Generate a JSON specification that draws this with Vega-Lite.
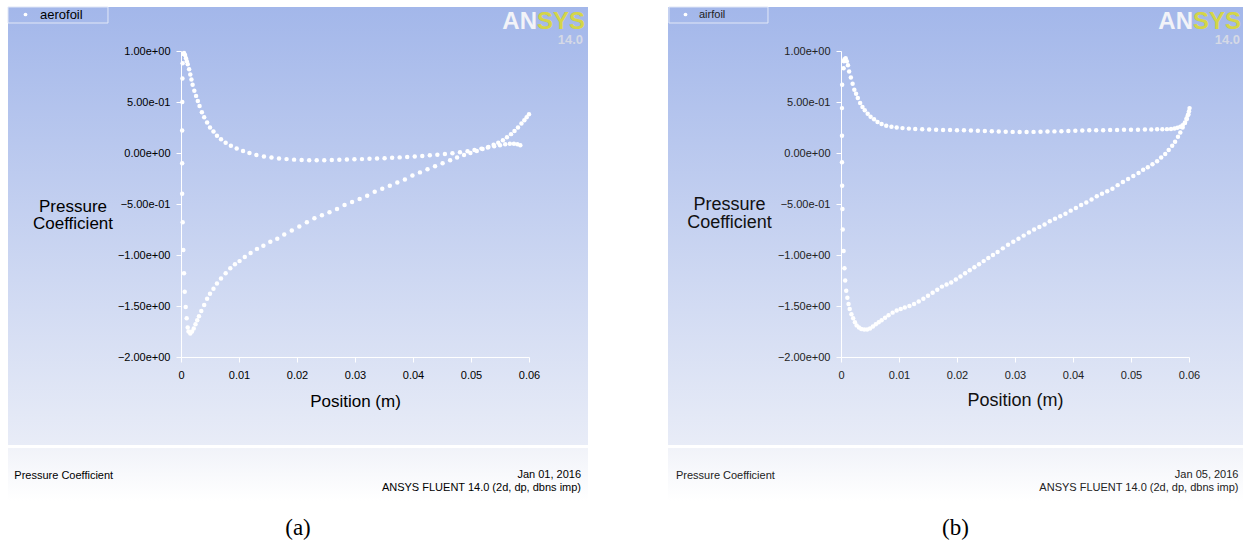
{
"$schema":"https://vega.github.io/schema/vega-lite/v6.json",
"padding":{"left":7,"top":6,"right":0,"bottom":0},
"spacing":80,
"resolve":{"scale":{"color":"independent"},"legend":{"color":"independent"}},
"config":{
"view":{"stroke":null,"fill":{"gradient":"linear","x1":0,"y1":0,"x2":0,"y2":1,"stops":[{"offset":0,"color":"#a3b7ea"},{"offset":0.886,"color":"#e8ecf7"},{"offset":0.887,"color":"#ffffff"},{"offset":0.892,"color":"#ffffff"},{"offset":0.893,"color":"#f1f3f9"},{"offset":1,"color":"#ffffff"}]}},
"font":"Liberation Sans",
"axis":{"grid":false,"domainColor":"#ffffff","domainWidth":1,"tickColor":"#ffffff","tickSize":5,"tickWidth":1,"labelFont":"Liberation Sans","labelFontSize":11,"labelColor":"#111111","titleFont":"Liberation Sans","titleFontWeight":"normal","titleColor":"#111111"}
},
"datasets":{
"a":[
{"zone":"aerofoil","side":"pressure","x":0.00052,"cp":0.98},{"zone":"aerofoil","side":"pressure","x":0.0007,"cp":0.96},{"zone":"aerofoil","side":"pressure","x":0.00086,"cp":0.93},{"zone":"aerofoil","side":"pressure","x":0.001,"cp":0.9},{"zone":"aerofoil","side":"pressure","x":0.00116,"cp":0.87},{"zone":"aerofoil","side":"pressure","x":0.0014,"cp":0.82},{"zone":"aerofoil","side":"pressure","x":0.0016,"cp":0.77},{"zone":"aerofoil","side":"pressure","x":0.0018,"cp":0.72},{"zone":"aerofoil","side":"pressure","x":0.002,"cp":0.67},{"zone":"aerofoil","side":"pressure","x":0.0023,"cp":0.61},{"zone":"aerofoil","side":"pressure","x":0.0026,"cp":0.56},{"zone":"aerofoil","side":"pressure","x":0.0029,"cp":0.51},{"zone":"aerofoil","side":"pressure","x":0.0032,"cp":0.46},{"zone":"aerofoil","side":"pressure","x":0.0036,"cp":0.4},{"zone":"aerofoil","side":"pressure","x":0.004,"cp":0.35},{"zone":"aerofoil","side":"pressure","x":0.0045,"cp":0.3},{"zone":"aerofoil","side":"pressure","x":0.005,"cp":0.25},{"zone":"aerofoil","side":"pressure","x":0.0056,"cp":0.21},{"zone":"aerofoil","side":"pressure","x":0.0062,"cp":0.17},{"zone":"aerofoil","side":"pressure","x":0.0069,"cp":0.135},{"zone":"aerofoil","side":"pressure","x":0.0077,"cp":0.1},{"zone":"aerofoil","side":"pressure","x":0.0086,"cp":0.07},{"zone":"aerofoil","side":"pressure","x":0.0096,"cp":0.045},{"zone":"aerofoil","side":"pressure","x":0.0107,"cp":0.02},{"zone":"aerofoil","side":"pressure","x":0.0118,"cp":0.0},{"zone":"aerofoil","side":"pressure","x":0.013,"cp":-0.02},{"zone":"aerofoil","side":"pressure","x":0.0143,"cp":-0.035},{"zone":"aerofoil","side":"pressure","x":0.0156,"cp":-0.045},{"zone":"aerofoil","side":"pressure","x":0.0169,"cp":-0.055},{"zone":"aerofoil","side":"pressure","x":0.0182,"cp":-0.06},{"zone":"aerofoil","side":"pressure","x":0.0195,"cp":-0.065},{"zone":"aerofoil","side":"pressure","x":0.0208,"cp":-0.068},{"zone":"aerofoil","side":"pressure","x":0.0221,"cp":-0.07},{"zone":"aerofoil","side":"pressure","x":0.0234,"cp":-0.07},{"zone":"aerofoil","side":"pressure","x":0.0247,"cp":-0.07},{"zone":"aerofoil","side":"pressure","x":0.026,"cp":-0.068},{"zone":"aerofoil","side":"pressure","x":0.0273,"cp":-0.066},{"zone":"aerofoil","side":"pressure","x":0.0286,"cp":-0.064},{"zone":"aerofoil","side":"pressure","x":0.0299,"cp":-0.062},{"zone":"aerofoil","side":"pressure","x":0.0312,"cp":-0.06},{"zone":"aerofoil","side":"pressure","x":0.0325,"cp":-0.057},{"zone":"aerofoil","side":"pressure","x":0.0338,"cp":-0.054},{"zone":"aerofoil","side":"pressure","x":0.0351,"cp":-0.051},{"zone":"aerofoil","side":"pressure","x":0.0364,"cp":-0.047},{"zone":"aerofoil","side":"pressure","x":0.0377,"cp":-0.043},{"zone":"aerofoil","side":"pressure","x":0.039,"cp":-0.039},{"zone":"aerofoil","side":"pressure","x":0.0403,"cp":-0.034},{"zone":"aerofoil","side":"pressure","x":0.0416,"cp":-0.029},{"zone":"aerofoil","side":"pressure","x":0.0429,"cp":-0.023},{"zone":"aerofoil","side":"pressure","x":0.0442,"cp":-0.017},{"zone":"aerofoil","side":"pressure","x":0.0455,"cp":-0.01},{"zone":"aerofoil","side":"pressure","x":0.0468,"cp":-0.002},{"zone":"aerofoil","side":"pressure","x":0.0481,"cp":0.008},{"zone":"aerofoil","side":"pressure","x":0.0494,"cp":0.018},{"zone":"aerofoil","side":"pressure","x":0.0506,"cp":0.03},{"zone":"aerofoil","side":"pressure","x":0.0518,"cp":0.043},{"zone":"aerofoil","side":"pressure","x":0.0529,"cp":0.055},{"zone":"aerofoil","side":"pressure","x":0.054,"cp":0.067},{"zone":"aerofoil","side":"pressure","x":0.055,"cp":0.077},{"zone":"aerofoil","side":"pressure","x":0.0559,"cp":0.085},{"zone":"aerofoil","side":"pressure","x":0.0567,"cp":0.09},{"zone":"aerofoil","side":"pressure","x":0.0574,"cp":0.09},{"zone":"aerofoil","side":"pressure","x":0.058,"cp":0.085},{"zone":"aerofoil","side":"pressure","x":0.0585,"cp":0.075},
{"zone":"aerofoil","side":"suction","x":0.0004,"cp":0.97},{"zone":"aerofoil","side":"suction","x":0.00028,"cp":0.88},{"zone":"aerofoil","side":"suction","x":0.00025,"cp":0.73},{"zone":"aerofoil","side":"suction","x":0.00022,"cp":0.5},{"zone":"aerofoil","side":"suction","x":0.0002,"cp":0.22},{"zone":"aerofoil","side":"suction","x":0.0002,"cp":-0.1},{"zone":"aerofoil","side":"suction","x":0.0002,"cp":-0.4},{"zone":"aerofoil","side":"suction","x":0.00029,"cp":-0.68},{"zone":"aerofoil","side":"suction","x":0.0004,"cp":-0.95},{"zone":"aerofoil","side":"suction","x":0.00052,"cp":-1.18},{"zone":"aerofoil","side":"suction","x":0.00064,"cp":-1.36},{"zone":"aerofoil","side":"suction","x":0.00081,"cp":-1.51},{"zone":"aerofoil","side":"suction","x":0.00098,"cp":-1.62},{"zone":"aerofoil","side":"suction","x":0.00116,"cp":-1.71},{"zone":"aerofoil","side":"suction","x":0.0013,"cp":-1.75},{"zone":"aerofoil","side":"suction","x":0.0016,"cp":-1.77},{"zone":"aerofoil","side":"suction","x":0.0019,"cp":-1.75},{"zone":"aerofoil","side":"suction","x":0.0022,"cp":-1.72},{"zone":"aerofoil","side":"suction","x":0.0025,"cp":-1.68},{"zone":"aerofoil","side":"suction","x":0.0028,"cp":-1.64},{"zone":"aerofoil","side":"suction","x":0.0031,"cp":-1.6},{"zone":"aerofoil","side":"suction","x":0.0035,"cp":-1.55},{"zone":"aerofoil","side":"suction","x":0.004,"cp":-1.49},{"zone":"aerofoil","side":"suction","x":0.0045,"cp":-1.43},{"zone":"aerofoil","side":"suction","x":0.005,"cp":-1.38},{"zone":"aerofoil","side":"suction","x":0.0056,"cp":-1.33},{"zone":"aerofoil","side":"suction","x":0.0062,"cp":-1.28},{"zone":"aerofoil","side":"suction","x":0.0069,"cp":-1.23},{"zone":"aerofoil","side":"suction","x":0.0077,"cp":-1.18},{"zone":"aerofoil","side":"suction","x":0.0085,"cp":-1.13},{"zone":"aerofoil","side":"suction","x":0.0093,"cp":-1.09},{"zone":"aerofoil","side":"suction","x":0.0101,"cp":-1.06},{"zone":"aerofoil","side":"suction","x":0.011,"cp":-1.02},{"zone":"aerofoil","side":"suction","x":0.012,"cp":-0.98},{"zone":"aerofoil","side":"suction","x":0.0131,"cp":-0.94},{"zone":"aerofoil","side":"suction","x":0.0142,"cp":-0.91},{"zone":"aerofoil","side":"suction","x":0.0154,"cp":-0.87},{"zone":"aerofoil","side":"suction","x":0.0166,"cp":-0.84},{"zone":"aerofoil","side":"suction","x":0.0178,"cp":-0.8},{"zone":"aerofoil","side":"suction","x":0.0191,"cp":-0.76},{"zone":"aerofoil","side":"suction","x":0.0204,"cp":-0.72},{"zone":"aerofoil","side":"suction","x":0.0217,"cp":-0.68},{"zone":"aerofoil","side":"suction","x":0.023,"cp":-0.64},{"zone":"aerofoil","side":"suction","x":0.0243,"cp":-0.61},{"zone":"aerofoil","side":"suction","x":0.0256,"cp":-0.58},{"zone":"aerofoil","side":"suction","x":0.0269,"cp":-0.55},{"zone":"aerofoil","side":"suction","x":0.0282,"cp":-0.51},{"zone":"aerofoil","side":"suction","x":0.0295,"cp":-0.48},{"zone":"aerofoil","side":"suction","x":0.0308,"cp":-0.45},{"zone":"aerofoil","side":"suction","x":0.0321,"cp":-0.42},{"zone":"aerofoil","side":"suction","x":0.0334,"cp":-0.38},{"zone":"aerofoil","side":"suction","x":0.0347,"cp":-0.35},{"zone":"aerofoil","side":"suction","x":0.036,"cp":-0.32},{"zone":"aerofoil","side":"suction","x":0.0373,"cp":-0.29},{"zone":"aerofoil","side":"suction","x":0.0386,"cp":-0.26},{"zone":"aerofoil","side":"suction","x":0.0399,"cp":-0.22},{"zone":"aerofoil","side":"suction","x":0.0412,"cp":-0.19},{"zone":"aerofoil","side":"suction","x":0.0425,"cp":-0.16},{"zone":"aerofoil","side":"suction","x":0.0438,"cp":-0.13},{"zone":"aerofoil","side":"suction","x":0.0451,"cp":-0.1},{"zone":"aerofoil","side":"suction","x":0.0464,"cp":-0.07},{"zone":"aerofoil","side":"suction","x":0.0476,"cp":-0.045},{"zone":"aerofoil","side":"suction","x":0.0488,"cp":-0.02},{"zone":"aerofoil","side":"suction","x":0.0499,"cp":0.0},{"zone":"aerofoil","side":"suction","x":0.051,"cp":0.02},{"zone":"aerofoil","side":"suction","x":0.052,"cp":0.04},{"zone":"aerofoil","side":"suction","x":0.053,"cp":0.06},{"zone":"aerofoil","side":"suction","x":0.0539,"cp":0.08},{"zone":"aerofoil","side":"suction","x":0.0547,"cp":0.1},{"zone":"aerofoil","side":"suction","x":0.0555,"cp":0.125},{"zone":"aerofoil","side":"suction","x":0.0562,"cp":0.155},{"zone":"aerofoil","side":"suction","x":0.0569,"cp":0.185},{"zone":"aerofoil","side":"suction","x":0.0575,"cp":0.215},{"zone":"aerofoil","side":"suction","x":0.0581,"cp":0.25},{"zone":"aerofoil","side":"suction","x":0.0587,"cp":0.29},{"zone":"aerofoil","side":"suction","x":0.0592,"cp":0.32},{"zone":"aerofoil","side":"suction","x":0.0596,"cp":0.35},{"zone":"aerofoil","side":"suction","x":0.06,"cp":0.38}
],
"b":[
{"zone":"airfoil","side":"pressure","x":0.0006,"cp":0.92},{"zone":"airfoil","side":"pressure","x":0.0008,"cp":0.93},{"zone":"airfoil","side":"pressure","x":0.001,"cp":0.9},{"zone":"airfoil","side":"pressure","x":0.0012,"cp":0.86},{"zone":"airfoil","side":"pressure","x":0.0014,"cp":0.8},{"zone":"airfoil","side":"pressure","x":0.0017,"cp":0.74},{"zone":"airfoil","side":"pressure","x":0.002,"cp":0.68},{"zone":"airfoil","side":"pressure","x":0.0023,"cp":0.62},{"zone":"airfoil","side":"pressure","x":0.0026,"cp":0.58},{"zone":"airfoil","side":"pressure","x":0.0029,"cp":0.54},{"zone":"airfoil","side":"pressure","x":0.0033,"cp":0.49},{"zone":"airfoil","side":"pressure","x":0.0037,"cp":0.45},{"zone":"airfoil","side":"pressure","x":0.0041,"cp":0.42},{"zone":"airfoil","side":"pressure","x":0.0046,"cp":0.385},{"zone":"airfoil","side":"pressure","x":0.0051,"cp":0.355},{"zone":"airfoil","side":"pressure","x":0.0057,"cp":0.33},{"zone":"airfoil","side":"pressure","x":0.0063,"cp":0.305},{"zone":"airfoil","side":"pressure","x":0.007,"cp":0.285},{"zone":"airfoil","side":"pressure","x":0.0078,"cp":0.268},{"zone":"airfoil","side":"pressure","x":0.0087,"cp":0.257},{"zone":"airfoil","side":"pressure","x":0.0096,"cp":0.25},{"zone":"airfoil","side":"pressure","x":0.0106,"cp":0.244},{"zone":"airfoil","side":"pressure","x":0.0117,"cp":0.239},{"zone":"airfoil","side":"pressure","x":0.0128,"cp":0.235},{"zone":"airfoil","side":"pressure","x":0.014,"cp":0.232},{"zone":"airfoil","side":"pressure","x":0.0152,"cp":0.23},{"zone":"airfoil","side":"pressure","x":0.0164,"cp":0.228},{"zone":"airfoil","side":"pressure","x":0.0176,"cp":0.226},{"zone":"airfoil","side":"pressure","x":0.0188,"cp":0.225},{"zone":"airfoil","side":"pressure","x":0.02,"cp":0.224},{"zone":"airfoil","side":"pressure","x":0.0212,"cp":0.222},{"zone":"airfoil","side":"pressure","x":0.0224,"cp":0.22},{"zone":"airfoil","side":"pressure","x":0.0236,"cp":0.218},{"zone":"airfoil","side":"pressure","x":0.0248,"cp":0.215},{"zone":"airfoil","side":"pressure","x":0.026,"cp":0.213},{"zone":"airfoil","side":"pressure","x":0.0272,"cp":0.21},{"zone":"airfoil","side":"pressure","x":0.0284,"cp":0.208},{"zone":"airfoil","side":"pressure","x":0.0296,"cp":0.207},{"zone":"airfoil","side":"pressure","x":0.0308,"cp":0.206},{"zone":"airfoil","side":"pressure","x":0.032,"cp":0.206},{"zone":"airfoil","side":"pressure","x":0.0332,"cp":0.207},{"zone":"airfoil","side":"pressure","x":0.0344,"cp":0.208},{"zone":"airfoil","side":"pressure","x":0.0356,"cp":0.21},{"zone":"airfoil","side":"pressure","x":0.0368,"cp":0.212},{"zone":"airfoil","side":"pressure","x":0.038,"cp":0.214},{"zone":"airfoil","side":"pressure","x":0.0392,"cp":0.216},{"zone":"airfoil","side":"pressure","x":0.0404,"cp":0.218},{"zone":"airfoil","side":"pressure","x":0.0416,"cp":0.22},{"zone":"airfoil","side":"pressure","x":0.0428,"cp":0.222},{"zone":"airfoil","side":"pressure","x":0.044,"cp":0.223},{"zone":"airfoil","side":"pressure","x":0.0452,"cp":0.224},{"zone":"airfoil","side":"pressure","x":0.0464,"cp":0.225},{"zone":"airfoil","side":"pressure","x":0.0476,"cp":0.226},{"zone":"airfoil","side":"pressure","x":0.0488,"cp":0.227},{"zone":"airfoil","side":"pressure","x":0.05,"cp":0.228},{"zone":"airfoil","side":"pressure","x":0.0512,"cp":0.229},{"zone":"airfoil","side":"pressure","x":0.0524,"cp":0.23},{"zone":"airfoil","side":"pressure","x":0.0535,"cp":0.231},{"zone":"airfoil","side":"pressure","x":0.0545,"cp":0.232},{"zone":"airfoil","side":"pressure","x":0.0554,"cp":0.233},{"zone":"airfoil","side":"pressure","x":0.0562,"cp":0.234},{"zone":"airfoil","side":"pressure","x":0.0569,"cp":0.236},{"zone":"airfoil","side":"pressure","x":0.0575,"cp":0.24},{"zone":"airfoil","side":"pressure","x":0.058,"cp":0.247},{"zone":"airfoil","side":"pressure","x":0.0585,"cp":0.257},{"zone":"airfoil","side":"pressure","x":0.0589,"cp":0.272},{"zone":"airfoil","side":"pressure","x":0.0593,"cp":0.295},{"zone":"airfoil","side":"pressure","x":0.0596,"cp":0.33},{"zone":"airfoil","side":"pressure","x":0.0598,"cp":0.37},{"zone":"airfoil","side":"pressure","x":0.06,"cp":0.41},{"zone":"airfoil","side":"pressure","x":0.0601,"cp":0.44},
{"zone":"airfoil","side":"suction","x":0.0005,"cp":0.9},{"zone":"airfoil","side":"suction","x":0.00045,"cp":0.83},{"zone":"airfoil","side":"suction","x":0.0002,"cp":0.67},{"zone":"airfoil","side":"suction","x":0.00017,"cp":0.44},{"zone":"airfoil","side":"suction","x":0.00017,"cp":0.17},{"zone":"airfoil","side":"suction","x":0.00017,"cp":-0.09},{"zone":"airfoil","side":"suction","x":0.0002,"cp":-0.32},{"zone":"airfoil","side":"suction","x":0.00025,"cp":-0.55},{"zone":"airfoil","side":"suction","x":0.0003,"cp":-0.75},{"zone":"airfoil","side":"suction","x":0.00045,"cp":-0.96},{"zone":"airfoil","side":"suction","x":0.0006,"cp":-1.13},{"zone":"airfoil","side":"suction","x":0.00072,"cp":-1.25},{"zone":"airfoil","side":"suction","x":0.0009,"cp":-1.35},{"zone":"airfoil","side":"suction","x":0.0011,"cp":-1.42},{"zone":"airfoil","side":"suction","x":0.0013,"cp":-1.48},{"zone":"airfoil","side":"suction","x":0.0015,"cp":-1.53},{"zone":"airfoil","side":"suction","x":0.0018,"cp":-1.58},{"zone":"airfoil","side":"suction","x":0.0021,"cp":-1.62},{"zone":"airfoil","side":"suction","x":0.0024,"cp":-1.66},{"zone":"airfoil","side":"suction","x":0.0027,"cp":-1.69},{"zone":"airfoil","side":"suction","x":0.0031,"cp":-1.71},{"zone":"airfoil","side":"suction","x":0.0035,"cp":-1.725},{"zone":"airfoil","side":"suction","x":0.004,"cp":-1.73},{"zone":"airfoil","side":"suction","x":0.0045,"cp":-1.73},{"zone":"airfoil","side":"suction","x":0.005,"cp":-1.72},{"zone":"airfoil","side":"suction","x":0.0055,"cp":-1.7},{"zone":"airfoil","side":"suction","x":0.006,"cp":-1.68},{"zone":"airfoil","side":"suction","x":0.0065,"cp":-1.66},{"zone":"airfoil","side":"suction","x":0.007,"cp":-1.64},{"zone":"airfoil","side":"suction","x":0.0076,"cp":-1.615},{"zone":"airfoil","side":"suction","x":0.0082,"cp":-1.59},{"zone":"airfoil","side":"suction","x":0.0089,"cp":-1.565},{"zone":"airfoil","side":"suction","x":0.0096,"cp":-1.545},{"zone":"airfoil","side":"suction","x":0.0103,"cp":-1.53},{"zone":"airfoil","side":"suction","x":0.011,"cp":-1.515},{"zone":"airfoil","side":"suction","x":0.0118,"cp":-1.5},{"zone":"airfoil","side":"suction","x":0.0126,"cp":-1.48},{"zone":"airfoil","side":"suction","x":0.0134,"cp":-1.455},{"zone":"airfoil","side":"suction","x":0.0142,"cp":-1.43},{"zone":"airfoil","side":"suction","x":0.015,"cp":-1.4},{"zone":"airfoil","side":"suction","x":0.0158,"cp":-1.37},{"zone":"airfoil","side":"suction","x":0.0166,"cp":-1.34},{"zone":"airfoil","side":"suction","x":0.0174,"cp":-1.31},{"zone":"airfoil","side":"suction","x":0.0182,"cp":-1.29},{"zone":"airfoil","side":"suction","x":0.019,"cp":-1.27},{"zone":"airfoil","side":"suction","x":0.0198,"cp":-1.24},{"zone":"airfoil","side":"suction","x":0.0206,"cp":-1.21},{"zone":"airfoil","side":"suction","x":0.0214,"cp":-1.18},{"zone":"airfoil","side":"suction","x":0.0222,"cp":-1.15},{"zone":"airfoil","side":"suction","x":0.023,"cp":-1.12},{"zone":"airfoil","side":"suction","x":0.0238,"cp":-1.09},{"zone":"airfoil","side":"suction","x":0.0246,"cp":-1.06},{"zone":"airfoil","side":"suction","x":0.0254,"cp":-1.03},{"zone":"airfoil","side":"suction","x":0.0262,"cp":-1.0},{"zone":"airfoil","side":"suction","x":0.027,"cp":-0.97},{"zone":"airfoil","side":"suction","x":0.0279,"cp":-0.935},{"zone":"airfoil","side":"suction","x":0.0288,"cp":-0.9},{"zone":"airfoil","side":"suction","x":0.0297,"cp":-0.87},{"zone":"airfoil","side":"suction","x":0.0306,"cp":-0.84},{"zone":"airfoil","side":"suction","x":0.0315,"cp":-0.81},{"zone":"airfoil","side":"suction","x":0.0324,"cp":-0.78},{"zone":"airfoil","side":"suction","x":0.0333,"cp":-0.75},{"zone":"airfoil","side":"suction","x":0.0342,"cp":-0.725},{"zone":"airfoil","side":"suction","x":0.0351,"cp":-0.7},{"zone":"airfoil","side":"suction","x":0.036,"cp":-0.67},{"zone":"airfoil","side":"suction","x":0.0369,"cp":-0.645},{"zone":"airfoil","side":"suction","x":0.0378,"cp":-0.62},{"zone":"airfoil","side":"suction","x":0.0387,"cp":-0.595},{"zone":"airfoil","side":"suction","x":0.0396,"cp":-0.565},{"zone":"airfoil","side":"suction","x":0.0405,"cp":-0.54},{"zone":"airfoil","side":"suction","x":0.0414,"cp":-0.51},{"zone":"airfoil","side":"suction","x":0.0423,"cp":-0.485},{"zone":"airfoil","side":"suction","x":0.0432,"cp":-0.455},{"zone":"airfoil","side":"suction","x":0.0441,"cp":-0.425},{"zone":"airfoil","side":"suction","x":0.045,"cp":-0.4},{"zone":"airfoil","side":"suction","x":0.0459,"cp":-0.375},{"zone":"airfoil","side":"suction","x":0.0468,"cp":-0.35},{"zone":"airfoil","side":"suction","x":0.0477,"cp":-0.315},{"zone":"airfoil","side":"suction","x":0.0486,"cp":-0.285},{"zone":"airfoil","side":"suction","x":0.0495,"cp":-0.255},{"zone":"airfoil","side":"suction","x":0.0504,"cp":-0.225},{"zone":"airfoil","side":"suction","x":0.0513,"cp":-0.195},{"zone":"airfoil","side":"suction","x":0.0521,"cp":-0.165},{"zone":"airfoil","side":"suction","x":0.0529,"cp":-0.14},{"zone":"airfoil","side":"suction","x":0.0537,"cp":-0.11},{"zone":"airfoil","side":"suction","x":0.0545,"cp":-0.08},{"zone":"airfoil","side":"suction","x":0.0552,"cp":-0.045},{"zone":"airfoil","side":"suction","x":0.0559,"cp":-0.01},{"zone":"airfoil","side":"suction","x":0.0565,"cp":0.03},{"zone":"airfoil","side":"suction","x":0.0571,"cp":0.07},{"zone":"airfoil","side":"suction","x":0.0576,"cp":0.11},{"zone":"airfoil","side":"suction","x":0.0581,"cp":0.16},{"zone":"airfoil","side":"suction","x":0.0585,"cp":0.2},{"zone":"airfoil","side":"suction","x":0.0589,"cp":0.25},{"zone":"airfoil","side":"suction","x":0.0593,"cp":0.3},{"zone":"airfoil","side":"suction","x":0.0596,"cp":0.34},{"zone":"airfoil","side":"suction","x":0.0599,"cp":0.38}
]
},
"hconcat":[
{
"width":580,"height":494,
"title":{"text":"(a)","orient":"bottom","anchor":"middle","frame":"group","font":"Liberation Serif","fontSize":23,"fontWeight":"normal","color":"#000000","offset":16},
"layer":[
{"data":{"values":[{}]},"mark":{"type":"rect","fill":null,"stroke":"#e2e8f7","strokeWidth":1},"encoding":{"x":{"datum":-0.02983},"x2":{"datum":-0.01259},"y":{"datum":1.4314},"y2":{"datum":1.2745}}},
{"data":{"name":"a"},
"mark":{"type":"point","filled":true,"size":20,"opacity":1,"strokeWidth":0},
"encoding":{
"x":{"field":"x","type":"quantitative","scale":{"domain":[0,0.06],"range":[173,521],"nice":false,"zero":false},
"axis":{"values":[0,0.01,0.02,0.03,0.04,0.05,0.06],"format":"~g","offset":-144,"labelPadding":7,"labelFlush":false,"labelOverlap":false,"labelColor":"#000000","title":"Position (m)","titleFontSize":17,"titleY":44,"titleBaseline":"middle","titleColor":"#000000"}},
"y":{"field":"cp","type":"quantitative","scale":{"domain":[-2,1],"range":[350,44],"nice":false,"zero":false},
"axis":{"values":[-2,-1.5,-1,-0.5,0,0.5,1],"labelExpr":"replace(replace(format(datum.value, '.2e'), 'e+', 'e+0'), 'e-', 'e-0')","offset":-173,"labelPadding":6,"labelOverlap":false,"labelColor":"#000000","title":["Pressure","Coefficient"],"titleAngle":0,"titleX":-108.5,"titleY":199,"titleAlign":"center","titleBaseline":"middle","titleFontSize":17,"titleLineHeight":17,"titleColor":"#000000"}},
"color":{"field":"zone","type":"nominal","scale":{"domain":["aerofoil"],"range":["#ffffff"]},
"legend":{"title":null,"orient":"none","legendX":2,"legendY":0,"padding":1,"symbolType":"circle","symbolSize":14,"symbolStrokeWidth":0,"symbolOffset":8,"labelOffset":8,"labelFontSize":13,"labelColor":"#000000","strokeColor":null}}
}},
{"data":{"values":[{}]},"mark":{"type":"text","text":"Pressure Coefficient","align":"left","baseline":"alphabetic","fontSize":11,"color":"#000000"},"encoding":{"x":{"datum":-0.02874},"y":{"datum":-3.196}}},
{"data":{"values":[{}]},"mark":{"type":"text","text":["Jan 01, 2016","ANSYS FLUENT 14.0 (2d, dp, dbns imp)"],"align":"right","baseline":"alphabetic","fontSize":11,"lineHeight":12.5,"color":"#000000"},"encoding":{"x":{"datum":0.06897},"y":{"datum":-3.19}}},
{"data":{"values":[{}]},"mark":{"type":"text","text":"AN","align":"right","baseline":"alphabetic","fontSize":24,"fontWeight":"bold","color":"#f2f3f8"},"encoding":{"x":{"datum":0.06138},"y":{"datum":1.216}}},
{"data":{"values":[{}]},"mark":{"type":"text","text":"SYS","align":"left","baseline":"alphabetic","fontSize":24,"fontWeight":"bold","color":"#d4d548"},"encoding":{"x":{"datum":0.06138},"y":{"datum":1.216}}},
{"data":{"values":[{}]},"mark":{"type":"text","text":"14.0","align":"right","baseline":"alphabetic","fontSize":13,"fontWeight":"bold","color":"#d5d9e6"},"encoding":{"x":{"datum":0.06931},"y":{"datum":1.069}}}
]
},
{
"width":575,"height":494,
"title":{"text":"(b)","orient":"bottom","anchor":"middle","frame":"group","font":"Liberation Serif","fontSize":23,"fontWeight":"normal","color":"#000000","offset":16},
"layer":[
{"data":{"values":[{}]},"mark":{"type":"rect","fill":null,"stroke":"#e2e8f7","strokeWidth":1},"encoding":{"x":{"datum":-0.02966},"x2":{"datum":-0.01259},"y":{"datum":1.4314},"y2":{"datum":1.2745}}},
{"data":{"name":"b"},
"mark":{"type":"point","filled":true,"size":20,"opacity":1,"strokeWidth":0},
"encoding":{
"x":{"field":"x","type":"quantitative","scale":{"domain":[0,0.06],"range":[173,521],"nice":false,"zero":false},
"axis":{"values":[0,0.01,0.02,0.03,0.04,0.05,0.06],"format":"~g","offset":-144,"labelPadding":7,"labelFlush":false,"labelOverlap":false,"labelColor":"#222222","title":"Position (m)","titleFontSize":18,"titleY":43,"titleBaseline":"middle","titleColor":"#111111"}},
"y":{"field":"cp","type":"quantitative","scale":{"domain":[-2,1],"range":[350,44],"nice":false,"zero":false},
"axis":{"values":[-2,-1.5,-1,-0.5,0,0.5,1],"labelExpr":"replace(replace(format(datum.value, '.2e'), 'e+', 'e+0'), 'e-', 'e-0')","offset":-173,"labelPadding":6,"labelOverlap":false,"labelColor":"#222222","title":["Pressure","Coefficient"],"titleAngle":0,"titleX":-112,"titleY":197,"titleAlign":"center","titleBaseline":"middle","titleFontSize":18,"titleLineHeight":18,"titleColor":"#111111"}},
"color":{"field":"zone","type":"nominal","scale":{"domain":["airfoil"],"range":["#ffffff"]},
"legend":{"title":null,"orient":"none","legendX":3,"legendY":1,"padding":1,"symbolType":"circle","symbolSize":14,"symbolStrokeWidth":0,"symbolOffset":8,"labelOffset":8,"labelFontSize":11,"labelColor":"#222222","strokeColor":null}}
}},
{"data":{"values":[{}]},"mark":{"type":"text","text":"Pressure Coefficient","align":"left","baseline":"alphabetic","fontSize":11,"color":"#222222"},"encoding":{"x":{"datum":-0.02845},"y":{"datum":-3.196}}},
{"data":{"values":[{}]},"mark":{"type":"text","text":["Jan 05, 2016","ANSYS FLUENT 14.0 (2d, dp, dbns imp)"],"align":"right","baseline":"alphabetic","fontSize":11,"lineHeight":12.5,"color":"#222222"},"encoding":{"x":{"datum":0.06853},"y":{"datum":-3.19}}},
{"data":{"values":[{}]},"mark":{"type":"text","text":"AN","align":"right","baseline":"alphabetic","fontSize":24,"fontWeight":"bold","color":"#f2f3f8"},"encoding":{"x":{"datum":0.06069},"y":{"datum":1.216}}},
{"data":{"values":[{}]},"mark":{"type":"text","text":"SYS","align":"left","baseline":"alphabetic","fontSize":24,"fontWeight":"bold","color":"#d4d548"},"encoding":{"x":{"datum":0.06069},"y":{"datum":1.216}}},
{"data":{"values":[{}]},"mark":{"type":"text","text":"14.0","align":"right","baseline":"alphabetic","fontSize":13,"fontWeight":"bold","color":"#d5d9e6"},"encoding":{"x":{"datum":0.06879},"y":{"datum":1.069}}}
]
}
]
}
